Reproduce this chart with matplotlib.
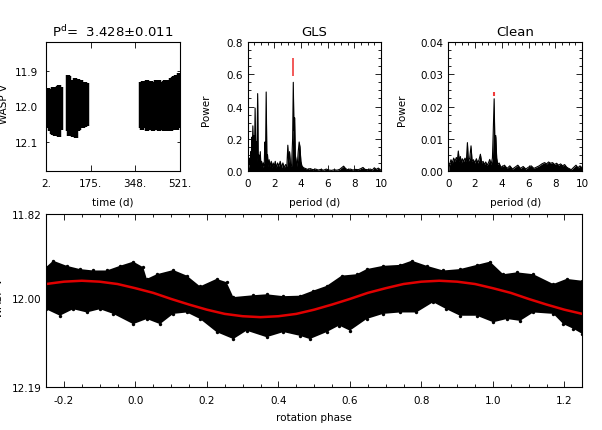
import matplotlib
matplotlib.use("Agg")
import matplotlib.pyplot as plt
from matplotlib.ticker import MultipleLocator

plt.rcParams['font.family'] = ['DejaVu Sans']
plt.rcParams['font.size'] = 7.5

# light curve vs time: nightly streaks (time, brightest, faintest)
night_t = [3, 8, 13, 19, 24, 30, 36, 42, 48, 54, 60,
           86, 92, 100, 106, 113, 119, 126, 132, 140, 147, 154, 160,
           370, 375, 381, 387, 393, 399, 405, 411, 417, 423, 429, 435, 441, 447,
           453, 459, 465, 471, 477, 483, 489, 495, 501, 507, 513, 519]
night_top = [11.950, 11.948, 11.952, 11.955, 11.950, 11.946, 11.944, 11.948, 11.942, 11.940, 11.945,
             11.912, 11.915, 11.930, 11.925, 11.920, 11.925, 11.922, 11.928, 11.926, 11.930, 11.932, 11.935,
             11.930, 11.935, 11.928, 11.932, 11.926, 11.930, 11.935, 11.928, 11.930, 11.932, 11.926, 11.928,
             11.925, 11.930, 11.932, 11.928, 11.926, 11.930, 11.925, 11.928, 11.920, 11.918, 11.915, 11.912,
             11.910, 11.905]
night_bot = [12.055, 12.060, 12.050, 12.070, 12.078, 12.080, 12.083, 12.075, 12.072, 12.085, 12.065,
             12.070, 12.082, 12.060, 12.085, 12.075, 12.088, 12.070, 12.065, 12.060, 12.062, 12.058, 12.055,
             12.060, 12.065, 12.055, 12.062, 12.068, 12.060, 12.065, 12.062, 12.070, 12.058, 12.066, 12.062,
             12.070, 12.065, 12.060, 12.068, 12.062, 12.070, 12.065, 12.062, 12.068, 12.060, 12.066, 12.062,
             12.065, 12.060]

# GLS periodogram
gls_p = [0.02, 0.10, 0.15, 0.20, 0.25, 0.28, 0.32, 0.35, 0.40, 0.44, 0.48, 0.52, 0.57, 0.62, 0.66,
         0.70, 0.76, 0.80, 0.85, 0.90, 0.96, 1.00, 1.06, 1.12, 1.18, 1.25, 1.30, 1.35, 1.40, 1.45,
         1.50, 1.55, 1.62, 1.70, 1.78, 1.85, 1.92, 2.00, 2.08, 2.15, 2.25, 2.35, 2.45, 2.55, 2.65,
         2.75, 2.85, 2.95, 3.02, 3.08, 3.15, 3.22, 3.30, 3.38, 3.43, 3.48, 3.53, 3.58, 3.65, 3.72,
         3.80, 3.87, 3.93, 4.00, 4.08, 4.20, 4.35, 4.50, 4.70, 4.90, 5.10, 5.30, 5.50, 5.70, 5.90,
         6.10, 6.30, 6.50, 6.70, 6.90, 7.05, 7.20, 7.35, 7.50, 7.70, 7.90, 8.10, 8.30, 8.50, 8.65,
         8.80, 9.00, 9.20, 9.35, 9.50, 9.65, 9.80, 9.95]
gls_pow = [0.0, 0.03, 0.08, 0.04, 0.12, 0.06, 0.21, 0.10, 0.28, 0.12, 0.22, 0.08, 0.39, 0.10, 0.18,
           0.06, 0.48, 0.08, 0.10, 0.04, 0.12, 0.03, 0.06, 0.02, 0.05, 0.03, 0.18, 0.10, 0.49, 0.08,
           0.10, 0.03, 0.07, 0.03, 0.06, 0.02, 0.05, 0.03, 0.06, 0.02, 0.05, 0.03, 0.06, 0.02, 0.05,
           0.02, 0.04, 0.03, 0.16, 0.05, 0.12, 0.04, 0.03, 0.20, 0.55, 0.25, 0.33, 0.10, 0.06, 0.03,
           0.12, 0.18, 0.15, 0.06, 0.03, 0.02, 0.015, 0.01, 0.015, 0.008, 0.012, 0.006, 0.01, 0.005, 0.012,
           0.006, 0.004, 0.008, 0.005, 0.01, 0.02, 0.03, 0.015, 0.008, 0.012, 0.006, 0.01, 0.008, 0.015, 0.022,
           0.01, 0.008, 0.012, 0.006, 0.02, 0.01, 0.018, 0.008]

# CLEAN periodogram
cln_p = [0.02, 0.10, 0.20, 0.30, 0.40, 0.50, 0.60, 0.68, 0.75, 0.82, 0.90, 0.98, 1.05, 1.15, 1.25,
         1.35, 1.43, 1.50, 1.60, 1.70, 1.78, 1.88, 1.98, 2.10, 2.20, 2.30, 2.40, 2.50, 2.60, 2.70,
         2.80, 2.90, 3.00, 3.10, 3.20, 3.30, 3.36, 3.43, 3.48, 3.55, 3.62, 3.70, 3.80, 3.90, 4.00,
         4.20, 4.40, 4.60, 4.80, 5.00, 5.20, 5.40, 5.60, 5.80, 6.00, 6.20, 6.40, 6.60, 6.80, 7.00,
         7.20, 7.35, 7.50, 7.65, 7.80, 7.95, 8.10, 8.25, 8.40, 8.55, 8.70, 8.85, 9.00, 9.20, 9.40,
         9.55, 9.70, 9.85, 10.0]
cln_pow = [0.0, 0.002, 0.0035, 0.0025, 0.004, 0.003, 0.0042, 0.0035, 0.0062, 0.003, 0.0045, 0.0025, 0.0038, 0.003, 0.004,
           0.003, 0.0088, 0.003, 0.004, 0.0078, 0.003, 0.0035, 0.0025, 0.0038, 0.0025, 0.0035, 0.0052, 0.0025, 0.003, 0.002,
           0.0028, 0.0018, 0.0025, 0.0036, 0.002, 0.004, 0.012, 0.0224, 0.009, 0.011, 0.004, 0.002, 0.0025, 0.0015, 0.0012,
           0.0018, 0.0008, 0.0016, 0.0006, 0.0012, 0.0018, 0.0008, 0.0014, 0.0006, 0.0012, 0.0016, 0.0008, 0.0012, 0.0016, 0.0022,
           0.0026, 0.0022, 0.0028, 0.0024, 0.0026, 0.002, 0.0024, 0.0018, 0.0022, 0.0016, 0.002, 0.0012, 0.0008, 0.0004, 0.0012,
           0.0018, 0.001, 0.0016, 0.001]

best_period = 3.428

# phased light curve envelopes
up_ph = [-0.250, -0.230, -0.192, -0.155, -0.118, -0.080, -0.043, -0.006, 0.022, 0.032, 0.060,
         0.106, 0.144, 0.181, 0.227, 0.255, 0.274, 0.330, 0.367, 0.414, 0.460, 0.498, 0.535,
         0.577, 0.619, 0.647, 0.693, 0.740, 0.773, 0.815, 0.861, 0.908, 0.955, 0.992, 1.029,
         1.067, 1.113, 1.169, 1.206, 1.250]
up_mag = [11.934, 11.920, 11.931, 11.938, 11.941, 11.941, 11.931, 11.922, 11.934, 11.959, 11.949,
          11.940, 11.952, 11.975, 11.959, 11.966, 11.998, 11.994, 11.992, 11.996, 11.995, 11.984, 11.974,
          11.952, 11.949, 11.938, 11.931, 11.929, 11.920, 11.931, 11.941, 11.938, 11.929, 11.922, 11.949,
          11.945, 11.949, 11.970, 11.959, 11.963]
lo_ph = [-0.250, -0.211, -0.174, -0.136, -0.099, -0.062, -0.006, 0.032, 0.069, 0.106, 0.144,
         0.181, 0.227, 0.274, 0.311, 0.367, 0.414, 0.460, 0.488, 0.535, 0.570, 0.600, 0.647,
         0.693, 0.740, 0.786, 0.833, 0.870, 0.908, 0.955, 1.001, 1.039, 1.076, 1.113, 1.169,
         1.197, 1.225, 1.250]
lo_mag = [12.024, 12.038, 12.024, 12.031, 12.024, 12.034, 12.056, 12.045, 12.056, 12.034, 12.031,
          12.045, 12.073, 12.088, 12.070, 12.084, 12.073, 12.081, 12.088, 12.073, 12.059, 12.070, 12.045,
          12.034, 12.031, 12.031, 12.009, 12.024, 12.038, 12.038, 12.052, 12.045, 12.049, 12.031, 12.034,
          12.056, 12.066, 12.077]

# sinusoidal fit
fit_ph = [-0.25, -0.20, -0.15, -0.10, -0.05, 0.00, 0.05, 0.10, 0.15, 0.20, 0.25, 0.30, 0.35, 0.40,
          0.45, 0.50, 0.55, 0.60, 0.65, 0.70, 0.75, 0.80, 0.85, 0.90, 0.95, 1.00, 1.05, 1.10, 1.15,
          1.20, 1.25]
fit_mag = [11.970, 11.965, 11.963, 11.965, 11.970, 11.979, 11.989, 12.002, 12.014, 12.025, 12.034,
           12.039, 12.041, 12.039, 12.034, 12.025, 12.014, 12.002, 11.989, 11.979, 11.970, 11.965,
           11.963, 11.965, 11.970, 11.979, 11.989, 12.002, 12.014, 12.025, 12.034]

W, H = 602, 431
fig = plt.figure(figsize=(W / 100, H / 100), dpi=100)


def box(l, t, r, b):
    return [l / W, (H - b) / H, (r - l) / W, (b - t) / H]


def idl_axes(ax):
    ax.tick_params(which='both', direction='in', top=True, right=True, width=0.6)
    ax.tick_params(which='major', length=4)
    ax.tick_params(which='minor', length=2)
    for s in ax.spines.values():
        s.set_linewidth(0.8)


# --- time series ---
ax1 = fig.add_axes(box(46, 43, 179.5, 172))
ax1.vlines(night_t, night_top, night_bot, color='k', lw=3.2)
ax1.set_xlim(2, 521)
ax1.set_ylim(12.182, 11.818)
ax1.set_xticks([2, 175, 348, 521])
ax1.set_xticklabels(['2.', '175.', '348.', '521.'])
ax1.set_yticks([11.9, 12.0, 12.1])
ax1.set_yticklabels(['11.9', '12.0', '12.1'])
idl_axes(ax1)
ax1.tick_params(axis='x', pad=5)
ax1.tick_params(axis='y', pad=6, length=2)
ax1.set_xlabel('time (d)')
ax1.set_ylabel('WASP V')
ax1.xaxis.set_label_coords(0.5, -0.20)
ax1.yaxis.set_label_coords(-0.275, 0.53)
ax1.text(0.5, 1.085, r'P$^{\rm d}$=  3.428$\pm$0.011', transform=ax1.transAxes,
         ha='center', va='center', fontsize=9.5)

# --- GLS ---
ax2 = fig.add_axes(box(247.5, 43, 381, 172))
ax2.fill_between(gls_p, 0, gls_pow, color='k', lw=0)
ax2.plot(gls_p, gls_pow, color='k', lw=0.8)
ax2.vlines([best_period], 0.59, 0.70, color='#f03c3c', lw=1.2)
ax2.set_xlim(0, 10)
ax2.set_ylim(0, 0.8)
ax2.xaxis.set_major_locator(MultipleLocator(2))
ax2.xaxis.set_minor_locator(MultipleLocator(0.5))
ax2.yaxis.set_major_locator(MultipleLocator(0.2))
ax2.yaxis.set_minor_locator(MultipleLocator(0.05))
ax2.yaxis.set_major_formatter(plt.FormatStrFormatter('%.1f'))
idl_axes(ax2)
ax2.tick_params(axis='x', pad=5)
ax2.set_xlabel('period (d)')
ax2.set_ylabel('Power')
ax2.xaxis.set_label_coords(0.5, -0.20)
ax2.yaxis.set_label_coords(-0.273, 0.48)
ax2.text(0.5, 1.085, 'GLS', transform=ax2.transAxes, ha='center', va='center', fontsize=9.5)

# --- CLEAN ---
ax3 = fig.add_axes(box(448.3, 43, 582, 172))
ax3.fill_between(cln_p, 0, cln_pow, color='k', lw=0)
ax3.plot(cln_p, cln_pow, color='k', lw=0.8)
ax3.vlines([best_period], 0.0234, 0.0246, color='#f03c3c', lw=1.5)
ax3.set_xlim(0, 10)
ax3.set_ylim(0, 0.04)
ax3.xaxis.set_major_locator(MultipleLocator(2))
ax3.xaxis.set_minor_locator(MultipleLocator(0.5))
ax3.yaxis.set_major_locator(MultipleLocator(0.01))
ax3.yaxis.set_minor_locator(MultipleLocator(0.0025))
ax3.yaxis.set_major_formatter(plt.FormatStrFormatter('%.2f'))
idl_axes(ax3)
ax3.tick_params(axis='x', pad=5)
ax3.set_xlabel('period (d)')
ax3.set_ylabel('Power')
ax3.xaxis.set_label_coords(0.5, -0.20)
ax3.yaxis.set_label_coords(-0.311, 0.48)
ax3.text(0.5, 1.085, 'Clean', transform=ax3.transAxes, ha='center', va='center', fontsize=9.5)

# --- phased light curve ---
ax4 = fig.add_axes(box(46, 215, 582.3, 387.7))
ax4.fill(up_ph + lo_ph[::-1], up_mag + lo_mag[::-1], color='k', lw=0)
ax4.scatter(up_ph, up_mag, s=6, color='k', lw=0)
ax4.scatter(lo_ph, lo_mag, s=6, color='k', lw=0)
ax4.plot(fit_ph, fit_mag, color='#e00000', lw=1.8)
ax4.set_xlim(-0.25, 1.25)
ax4.set_ylim(12.19, 11.82)
ax4.xaxis.set_major_locator(MultipleLocator(0.2))
ax4.xaxis.set_minor_locator(MultipleLocator(0.05))
ax4.xaxis.set_major_formatter(plt.FormatStrFormatter('%.1f'))
ax4.set_yticks([11.82, 12.00, 12.19])
ax4.set_yticklabels(['11.82', '12.00', '12.19'])
idl_axes(ax4)
ax4.tick_params(axis='y', length=0, pad=3)
ax4.tick_params(axis='x', pad=6)
ax4.set_xlabel('rotation phase')
ax4.xaxis.set_label_coords(0.5, -0.147)
fig.text(-1 / W, 1 - 298 / H, 'WASP V', rotation=90, ha='center', va='center', fontsize=7.5)

fig.savefig('out.png', dpi=100)
